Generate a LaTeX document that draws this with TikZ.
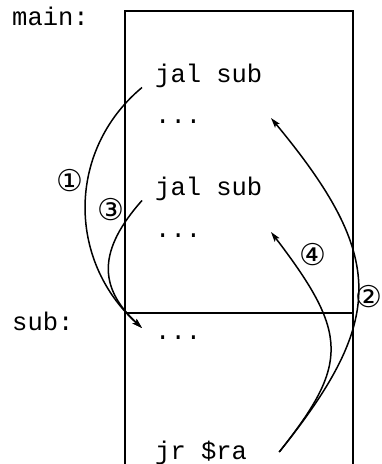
\documentclass[tikz,border=0pt]{standalone}
\usepackage{fontspec}
\setmonofont{Liberation Mono}
\newfontfamily\circfont{DejaVu Sans}
\usetikzlibrary{arrows.meta}

\begin{document}
\begin{tikzpicture}[x=1pt,y=-1pt,>={Stealth[length=10pt,width=6pt,inset=2pt]},
  code/.style={font=\fontsize{25.5}{30}\selectfont\ttfamily,inner sep=0pt,anchor=base west},
  num/.style={font=\fontsize{30}{34}\selectfont\circfont,inner sep=0pt},
  flow/.style={->,line width=1.5pt}]
  \useasboundingbox (0,0) rectangle (382,464);
  \draw[line width=1.6pt] (125,464) -- (125,11) -- (353,11) -- (353,464);
  \draw[line width=2.2pt] (125,313) -- (353,313);
  \node[code] (mainlbl) at (12,25) {main:};
  \node[code] (sublbl) at (12,330) {sub:};
  \node[code] (jalA) at (155,82) {jal sub};
  \node[code] (dotsA) at (155,123) {...};
  \node[code] (jalB) at (155,195) {jal sub};
  \node[code] (dotsB) at (155,237) {...};
  \node[code] (dotsC) at (155,339) {...};
  \node[code] (jr) at (155,459) {jr \$ra};
  \draw[flow] ([xshift=-13pt]jalA.south west) .. controls (67,150) and (67,260) .. ([xshift=-13pt,yshift=11pt]dotsC.base west);
  \draw[flow] ([xshift=32pt,yshift=7pt]jr.base east) .. controls (386,319) and (386,257) .. ([xshift=116pt,yshift=5pt]dotsA.base west);
  \draw[flow] ([xshift=-13pt]jalB.south west) .. controls (98,250) and (98,287) .. ([xshift=-13pt,yshift=11pt]dotsC.base west);
  \draw[flow] ([xshift=32pt,yshift=7pt]jr.base east) .. controls (349,364) and (349,334) .. ([xshift=116pt,yshift=5pt]dotsB.base west);
  \node[num] (n1) at (70,181) {①};
  \node[num] (n2) at (369,297) {②};
  \node[num] (n3) at (111,210) {③};
  \node[num] (n4) at (313,255) {④};
\end{tikzpicture}
\end{document}
